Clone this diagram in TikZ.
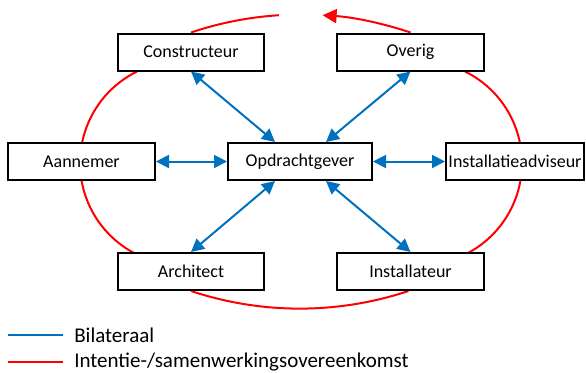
\documentclass[tikz,border=0pt]{standalone}
\usepackage{fontspec}
\setmainfont{Carlito}
\usetikzlibrary{arrows.meta,calc,backgrounds}
\definecolor{bilblue}{HTML}{0070C0}
\definecolor{ovkred}{HTML}{FF0000}
\begin{document}
\begin{tikzpicture}[x=0.75pt,y=-0.75pt,
  box/.style={draw=black,line width=1.5pt,fill=white,minimum height=27.75pt,
    minimum width=109.5pt,inner sep=0pt,font=\fontsize{13.5pt}{16pt}\selectfont},
  legtext/.style={anchor=west,inner sep=0pt,font=\fontsize{15.75pt}{18pt}\selectfont},
  bil/.style={draw=bilblue,line width=1.5pt,{Triangle[length=9.75pt,width=9.75pt]}-{Triangle[length=9.75pt,width=9.75pt]}},
  ovk/.style={draw=ovkred,line width=1.5pt}]
\useasboundingbox (0,0) rectangle (586,372);

% parties
\node[box] (con)  at (191,52)    {Constructeur};
\node[box,minimum width=110.25pt] (ove) at (410.5,52) {Overig};
\node[box,minimum width=110.25pt] (aan) at (81.5,161.5) {Aannemer};
\node[box,minimum width=108pt] (opd)  at (300,161.5) {Opdrachtgever};
\node[box,minimum width=103.5pt] (adv) at (515,161.5) {Installatieadviseur};
\node[box] (arch) at (191,271.5) {Architect};
\node[box,minimum width=110.25pt] (inst) at (410.5,271.5) {Installateur};

% agreement ring, behind the boxes
\begin{pgfonlayer}{background}
  \draw[ovk] (con.north) arc[start angle=-108.6, end angle=-93.66, radius=344.5];
  \draw[ovk,-{Triangle[length=10.5pt,width=10.5pt]}] (ove.north) arc[start angle=-71.4, end angle=-86.34, radius=344.5];
  \draw[ovk] ($(con.south)+(-54,0)$) arc[start angle=-116.2, end angle=-243.8, radius=102];
  \draw[ovk] ($(ove.south)+(54.5,0)$) arc[start angle=-63.8, end angle=63.8, radius=102];
  \draw[ovk] (arch.south) arc[start angle=108.4, end angle=71.6, radius=344.5];
\end{pgfonlayer}

% bilateral links
\draw[bil] (aan.east) -- (opd.west);
\draw[bil] (opd.east) -- (adv.west);
\draw[bil] ($(opd.north)+(-25,0)$) -- (con.south);
\draw[bil] ($(opd.north)+(26,0)$) -- (ove.south);
\draw[bil] ($(opd.south)+(-25,0)$) -- (arch.north);
\draw[bil] ($(opd.south)+(26,0)$) -- (inst.north);

% legend
\coordinate (lb1) at (8,335);
\coordinate (lb2) at (63,335);
\coordinate (lr1) at (8,362);
\coordinate (lr2) at (63,362);
\draw[draw=bilblue,line width=1.5pt] (lb1) -- (lb2);
\draw[ovk] (lr1) -- (lr2);
\node[legtext] (lbt) at (74,335) {Bilateraal};
\node[legtext] (lrt) at (74,362) {Intentie-/samenwerkingsovereenkomst};
\end{tikzpicture}
\end{document}
